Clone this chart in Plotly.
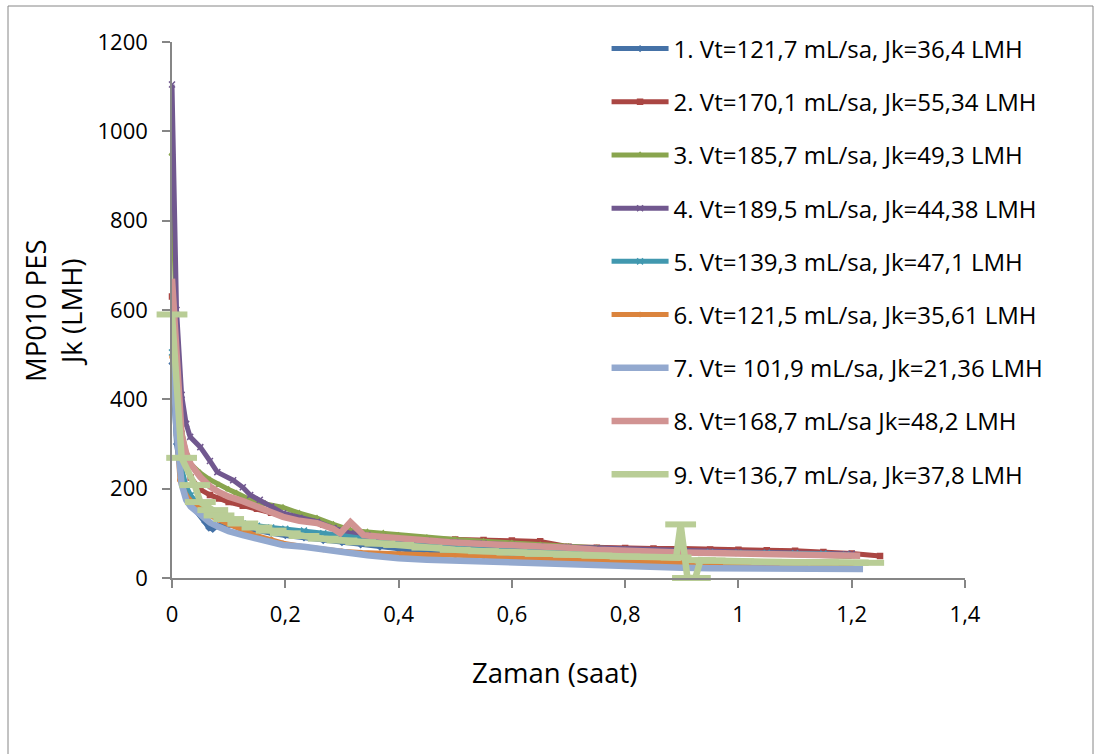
import plotly.graph_objects as go

# ---------------- data (time in hours, flux Jk in LMH) ----------------
names = [
    "1. Vt=121,7 mL/sa, Jk=36,4 LMH",
    "2. Vt=170,1 mL/sa, Jk=55,34 LMH",
    "3. Vt=185,7 mL/sa, Jk=49,3 LMH",
    "4. Vt=189,5 mL/sa, Jk=44,38 LMH",
    "5. Vt=139,3 mL/sa, Jk=47,1 LMH",
    "6. Vt=121,5 mL/sa, Jk=35,61 LMH",
    "7. Vt= 101,9 mL/sa, Jk=21,36 LMH",
    "8. Vt=168,7 mL/sa Jk=48,2 LMH",
    "9. Vt=136,7 mL/sa, Jk=37,8 LMH",
]

t1 = [0, 0.008, 0.017, 0.025, 0.033, 0.05, 0.058, 0.065, 0.072, 0.08, 0.1, 0.125, 0.15, 0.175, 0.2,
      0.233, 0.267, 0.3, 0.333, 0.367, 0.4, 0.45, 0.5, 0.55, 0.6, 0.65, 0.7, 0.75, 0.8, 0.85, 0.9,
      0.95, 1.0, 1.05, 1.1, 1.15, 1.2]
y1 = [480, 300, 222, 185, 165, 140, 125, 112, 109, 117, 119, 113, 106, 100, 95,
      90, 84, 79, 74, 69, 63, 58, 53, 49, 45, 42, 39, 36, 34, 33, 32,
      31, 31, 30, 30, 30, 30]

t2 = [0, 0.008, 0.017, 0.025, 0.033, 0.05, 0.067, 0.083, 0.1, 0.125, 0.15, 0.175, 0.2, 0.233, 0.267,
      0.3, 0.333, 0.367, 0.4, 0.45, 0.5, 0.55, 0.6, 0.65, 0.7, 0.75, 0.8, 0.85, 0.9, 0.95, 1.0,
      1.05, 1.1, 1.15, 1.2, 1.25]
y2 = [630, 400, 300, 250, 225, 198, 186, 178, 170, 162, 155, 146, 137, 129, 120,
      108, 100, 95, 90, 88, 86, 85, 84, 82, 70, 68, 67, 66, 66, 64, 63,
      62, 61, 58, 55, 49]

t3 = [0, 0.008, 0.017, 0.025, 0.033, 0.05, 0.067, 0.083, 0.1, 0.114, 0.138, 0.165, 0.196, 0.225, 0.256,
      0.285, 0.315, 0.345, 0.373, 0.4, 0.45, 0.5, 0.55, 0.6, 0.65, 0.7, 0.75, 0.8, 0.85, 0.9, 0.95,
      1.0, 1.05, 1.1, 1.15, 1.2]
y3 = [950, 520, 330, 280, 255, 235, 220, 208, 198, 190, 175, 166, 158, 145, 134,
      120, 107, 103, 100, 95, 90, 86, 82, 78, 74, 70, 67, 64, 62, 60, 58,
      56, 54, 52, 50, 48]

t4 = [0, 0.008, 0.017, 0.025, 0.032, 0.05, 0.067, 0.08, 0.108, 0.125, 0.138, 0.155, 0.175, 0.196, 0.225,
      0.256, 0.285, 0.315, 0.345, 0.373, 0.4, 0.45, 0.5, 0.55, 0.6, 0.65, 0.7, 0.75, 0.8, 0.85, 0.9,
      0.95, 1.0, 1.05, 1.1, 1.15, 1.2]
y4 = [1105, 600, 410, 345, 316, 293, 262, 237, 219, 203, 186, 175, 160, 145, 135,
      126, 112, 100, 96, 92, 88, 84, 80, 77, 74, 71, 69, 66, 64, 62, 60,
      59, 58, 57, 56, 55, 54]

t5 = [0, 0.008, 0.017, 0.025, 0.033, 0.05, 0.067, 0.083, 0.1, 0.125, 0.15, 0.175, 0.2, 0.233, 0.267,
      0.3, 0.333, 0.367, 0.4, 0.45, 0.5, 0.55, 0.6, 0.65, 0.7, 0.75, 0.8, 0.85, 0.9, 0.95, 1.0,
      1.05, 1.1, 1.15, 1.19]
y5 = [505, 340, 245, 205, 185, 160, 145, 135, 128, 122, 117, 113, 110, 106, 100,
      95, 88, 83, 79, 75, 71, 68, 66, 64, 62, 60, 59, 58, 57, 57, 56,
      56, 55, 54, 52]

t6 = [0, 0.008, 0.014, 0.025, 0.037, 0.05, 0.067, 0.083, 0.1, 0.125, 0.138, 0.15, 0.175, 0.196, 0.233,
      0.267, 0.3, 0.333, 0.367, 0.4, 0.45, 0.5, 0.55, 0.6, 0.65, 0.7, 0.75, 0.8, 0.85, 0.9, 0.95,
      1.0, 1.05, 1.1, 1.15, 1.2]
y6 = [495, 320, 219, 185, 168, 155, 140, 130, 120, 106, 100, 95, 86, 78, 70,
      64, 60, 57, 55, 54, 52, 51, 49, 44, 42, 40, 38, 36, 34, 33, 32,
      31, 30, 30, 29, 29]

t7 = [0, 0.008, 0.017, 0.025, 0.033, 0.05, 0.067, 0.083, 0.1, 0.125, 0.138, 0.15, 0.175, 0.196, 0.233,
      0.256, 0.3, 0.315, 0.345, 0.373, 0.4, 0.45, 0.5, 0.55, 0.6, 0.65, 0.7, 0.75, 0.8, 0.85, 0.9,
      0.95, 1.0, 1.05, 1.1, 1.15, 1.22]
y7 = [550, 330, 210, 175, 160, 140, 124, 114, 105, 96, 92, 86, 80, 74, 70,
      67, 60, 56, 51, 47, 44, 41, 39, 37, 34, 31, 29, 26, 25, 24, 23,
      22, 22, 21, 20, 20, 20]

t8 = [0, 0.008, 0.017, 0.025, 0.033, 0.05, 0.067, 0.083, 0.1, 0.125, 0.138, 0.165, 0.196, 0.225, 0.256,
      0.285, 0.297, 0.307, 0.315, 0.324, 0.338, 0.373, 0.4, 0.433, 0.49, 0.55, 0.6, 0.65, 0.7, 0.75, 0.8,
      0.85, 0.9, 0.95, 1.0, 1.05, 1.1, 1.15, 1.215]
y8 = [670, 500, 320, 280, 255, 226, 205, 192, 182, 172, 166, 150, 137, 128, 123,
      110, 100, 114, 125, 114, 96, 92, 89, 85, 80, 76, 74, 72, 68, 63, 60,
      58, 57, 56, 55, 53, 52, 51, 50]

t9 = [0, 0.017, 0.04, 0.05, 0.072, 0.083, 0.1, 0.125, 0.15, 0.175, 0.2, 0.233, 0.267, 0.3, 0.333,
      0.367, 0.4, 0.45, 0.5, 0.55, 0.6, 0.65, 0.7, 0.75, 0.8, 0.85, 0.89, 0.898, 0.91, 0.924,
      0.933, 0.95, 1.0, 1.05, 1.1, 1.15, 1.23]
y9 = [590, 269, 208, 170, 152, 140, 132, 122, 113, 106, 100, 94, 88, 84, 80,
      77, 74, 68, 63, 60, 57, 54, 52, 50, 48, 47, 46, 120, 0, 0,
      40, 39, 37, 36, 35, 35, 34]

times = [t1, t2, t3, t4, t5, t6, t7, t8, t9]
values = [y1, y2, y3, y4, y5, y6, y7, y8, y9]

colors = ["#4572A7", "#AA4643", "#89A54E", "#71588F", "#4198AF",
          "#DB843D", "#93A9CF", "#D19392", "#B9CD96"]
symbols = ["diamond", "square", "triangle-up", "x-thin-open", "x-thin-open",
           "circle", "circle", "circle", "line-ew-open"]
msizes = [4, 5, 5, 6, 6, 4, 0, 0, 22]
lwidths = [5, 5, 5, 5, 5, 5, 6.5, 6.5, 6.5]

FONT = "Open Sans"

fig = go.Figure()
for i in range(9):
    fig.add_trace(go.Scatter(
        x=times[i], y=values[i], name=names[i], legendgroup=str(i),
        mode="lines+markers" if msizes[i] > 0 else "lines",
        line=dict(color=colors[i], width=lwidths[i]),
        marker=dict(symbol=symbols[i], size=msizes[i], color=colors[i],
                    line=dict(color=colors[i], width=6 if i == 8 else 1.5)),
        cliponaxis=False,
    ))

axis_col = "#868686"
fig.update_layout(
    width=1096, height=754,
    margin=dict(l=172, r=131, t=42, b=176),
    paper_bgcolor="white", plot_bgcolor="white",
    separators=", ",
    font=dict(family=FONT, size=22, color="black"),
    showlegend=True,
    legend=dict(x=0.548, y=1.029, xanchor="left", yanchor="top",
                bgcolor="rgba(0,0,0,0)", itemwidth=57, maxheight=700,
                tracegroupgap=19, font=dict(size=24, family=FONT)),
    xaxis=dict(range=[0, 1.4], dtick=0.2, tick0=0, tickformat=".1~f",
               showline=True, linecolor=axis_col, linewidth=1.5,
               ticks="outside", ticklen=8, tickcolor=axis_col, tickwidth=1.5,
               showgrid=False, zeroline=False, ticklabelstandoff=8,
               tickfont=dict(size=22)),
    yaxis=dict(range=[0, 1200], dtick=200, tick0=0,
               showline=True, linecolor=axis_col, linewidth=1.5,
               ticks="outside", ticklen=8, tickcolor=axis_col, tickwidth=1.5,
               showgrid=False, zeroline=False, ticklabelstandoff=10,
               tickfont=dict(size=22)),
    annotations=[
        dict(text="MP010 PES<br>Jk (LMH)", xref="paper", yref="paper",
             x=(53 - 172) / 793, y=(578 - 310) / 536, showarrow=False,
             textangle=-90, font=dict(size=27.5, family=FONT), xanchor="center", yanchor="middle"),
        dict(text="Zaman (saat)", xref="paper", yref="paper",
             x=(554 - 172) / 793, y=(578 - 672) / 536, showarrow=False,
             font=dict(size=27.5, family=FONT), xanchor="center", yanchor="middle"),
    ],
    shapes=[dict(type="rect", xref="paper", yref="paper",
                 x0=(8 - 172) / 793, x1=(1093 - 172) / 793,
                 y0=(578 - 770) / 536, y1=(578 - 6) / 536,
                 line=dict(color=axis_col, width=1), layer="below")],
)

fig.write_html("out.html")
